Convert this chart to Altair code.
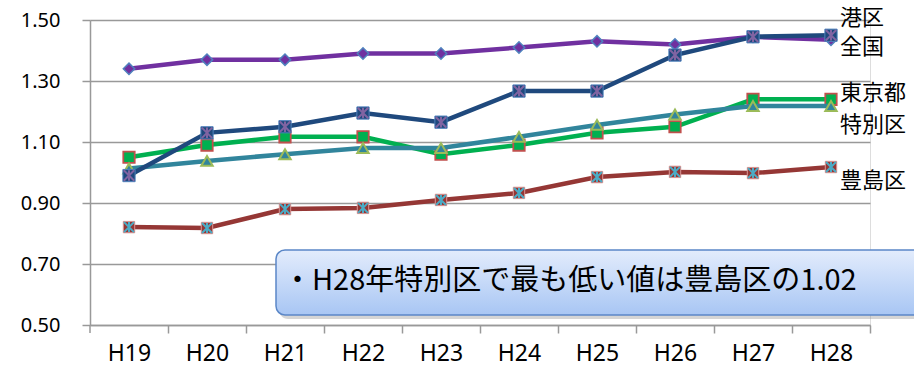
import altair as alt
import pandas as pd

years = ["H19", "H20", "H21", "H22", "H23", "H24", "H25", "H26", "H27", "H28"]
zenkoku = [1.34, 1.37, 1.37, 1.39, 1.39, 1.41, 1.43, 1.42, 1.445, 1.435]
minato = [0.99, 1.13, 1.15, 1.195, 1.165, 1.267, 1.267, 1.385, 1.445, 1.45]
tokyo = [1.05, 1.09, 1.117, 1.117, 1.06, 1.09, 1.13, 1.15, 1.24, 1.24]
tokubetsu = [1.013, 1.038, 1.06, 1.08, 1.08, 1.117, 1.156, 1.19, 1.218, 1.218]
toshima = [0.821, 0.818, 0.88, 0.884, 0.91, 0.933, 0.985, 1.002, 0.998, 1.018]

series_names = ["全国", "東京都", "特別区", "豊島区", "港区"]
series_values = [zenkoku, tokyo, tokubetsu, toshima, minato]
y_ticks = [0.5, 0.7, 0.9, 1.1, 1.3, 1.5]
note_text = "・H28年特別区で最も低い値は豊島区の1.02"

FONT = "Noto Sans CJK JP"
LATIN = "Noto Sans"
W, H = 780, 305

ASTER = "M-1,-1L1,1M1,-1L-1,1M0,-1L0,1"

styles = {
    "全国": dict(line="#7030A0", markers=[dict(shape="diamond", fill="#7030A0", stroke="#4F81BD", size=130, sw=1.5)]),
    "東京都": dict(line="#00B050", markers=[dict(shape="square", fill="#00B050", stroke="#C0504D", size=130, sw=1.8)]),
    "特別区": dict(line="#31859C", markers=[dict(shape="triangle-up", fill="#31859C", stroke="#9BBB59", size=130, sw=2)]),
    "豊島区": dict(line="#953735", markers=[dict(shape="square", fill="#953735", stroke="#D99694", size=130, sw=1),
                                        dict(shape=ASTER, fill=None, stroke="#4BACC6", size=100, sw=2)]),
    "港区": dict(line="#1F497D", markers=[dict(shape="square", fill="#1F497D", stroke="#4F81BD", size=150, sw=1),
                                       dict(shape=ASTER, fill=None, stroke="#8064A2", size=110, sw=2)]),
}

rows = []
for name, vals in zip(series_names, series_values):
    for yr, v in zip(years, vals):
        rows.append({"series": name, "year": yr, "value": v})
df = pd.DataFrame(rows)

x_enc = alt.X("year:O", sort=years, scale=alt.Scale(type="point", padding=0.5),
              axis=alt.Axis(title=None, labelAngle=0, labelFont=LATIN, labelFontSize=23,
                            labelFontWeight="normal",
                            labelColor="#000000", tickOffset=W / 20, labelOffset=-W / 20,
                            tickSize=8, tickColor="#999999", tickWidth=1.5,
                            domainColor="#999999", domainWidth=1.5, labelPadding=9, grid=False))
y_enc = alt.Y("value:Q", scale=alt.Scale(domain=[0.5, 1.5], nice=False, zero=False),
              axis=alt.Axis(title=None, values=y_ticks, format=".2f", labelFont=LATIN,
                            labelFontSize=20, labelColor="#000000", labelPadding=22,
                            tickSize=8, tickColor="#999999", tickWidth=1.5,
                            domainColor="#999999", domainWidth=1.5,
                            grid=True, gridColor="#999999", gridWidth=1.5))

base = alt.Chart(df)
layers = []
layers.append(base.mark_line(opacity=0).encode(x=x_enc, y=y_enc))
for name in series_names:
    st = styles[name]
    sub = base.transform_filter(alt.datum.series == name)
    layers.append(sub.mark_line(color=st["line"], strokeWidth=4.5).encode(x=x_enc, y=y_enc))
    for m in st["markers"]:
        kw = dict(shape=m["shape"], size=m["size"], stroke=m["stroke"], strokeWidth=m["sw"], opacity=1)
        if m["fill"] is None:
            kw["filled"] = False
        else:
            kw["filled"] = True
            kw["fill"] = m["fill"]
        layers.append(sub.mark_point(**kw).encode(x=x_enc, y=y_enc))

one = alt.Data(values=[{}])

layers.append(alt.Chart(one).mark_rule(color="#999999", strokeWidth=1.5).encode(
    x=alt.value(0), y=alt.value(H), y2=alt.value(H + 8)))

label_pos = [("港区", 750, -2), ("全国", 750, 27), ("東京都", 750, 73), ("特別区", 750, 105), ("豊島区", 750, 161)]
for txt, lx, ly in label_pos:
    layers.append(alt.Chart(one).mark_text(text=txt, font=FONT, fontSize=22, align="left",
                                           baseline="middle", color="#000000").encode(
        x=alt.value(lx), y=alt.value(ly)))

layers.append(alt.Chart(one).mark_rect(cornerRadius=9, fill="#888888", opacity=0.35).encode(
    x=alt.value(189), x2=alt.value(860), y=alt.value(234), y2=alt.value(299)))
grad = alt.Gradient(gradient="linear", x1=0, y1=0, x2=0, y2=1,
                    stops=[alt.GradientStop(color="#E3ECFC", offset=0),
                           alt.GradientStop(color="#A8C6F4", offset=1)])
layers.append(alt.Chart(one).mark_rect(cornerRadius=9, fill=grad, stroke="#5B87C7", strokeWidth=1.5).encode(
    x=alt.value(186), x2=alt.value(860), y=alt.value(230), y2=alt.value(295)))
layers.append(alt.Chart(one).mark_text(text=note_text, font=FONT, fontSize=29, align="left",
                                       baseline="middle", color="#000000").encode(
    x=alt.value(193), y=alt.value(261)))

chart = alt.layer(*layers).properties(
    width=W, height=H,
    autosize=alt.AutoSizeParams(type="none"),
    padding={"left": 90, "top": 20, "right": 44, "bottom": 44},
).configure_view(stroke=None).configure(background="white")

chart.save("out.html", embed_options={"renderer": "svg", "actions": False})
